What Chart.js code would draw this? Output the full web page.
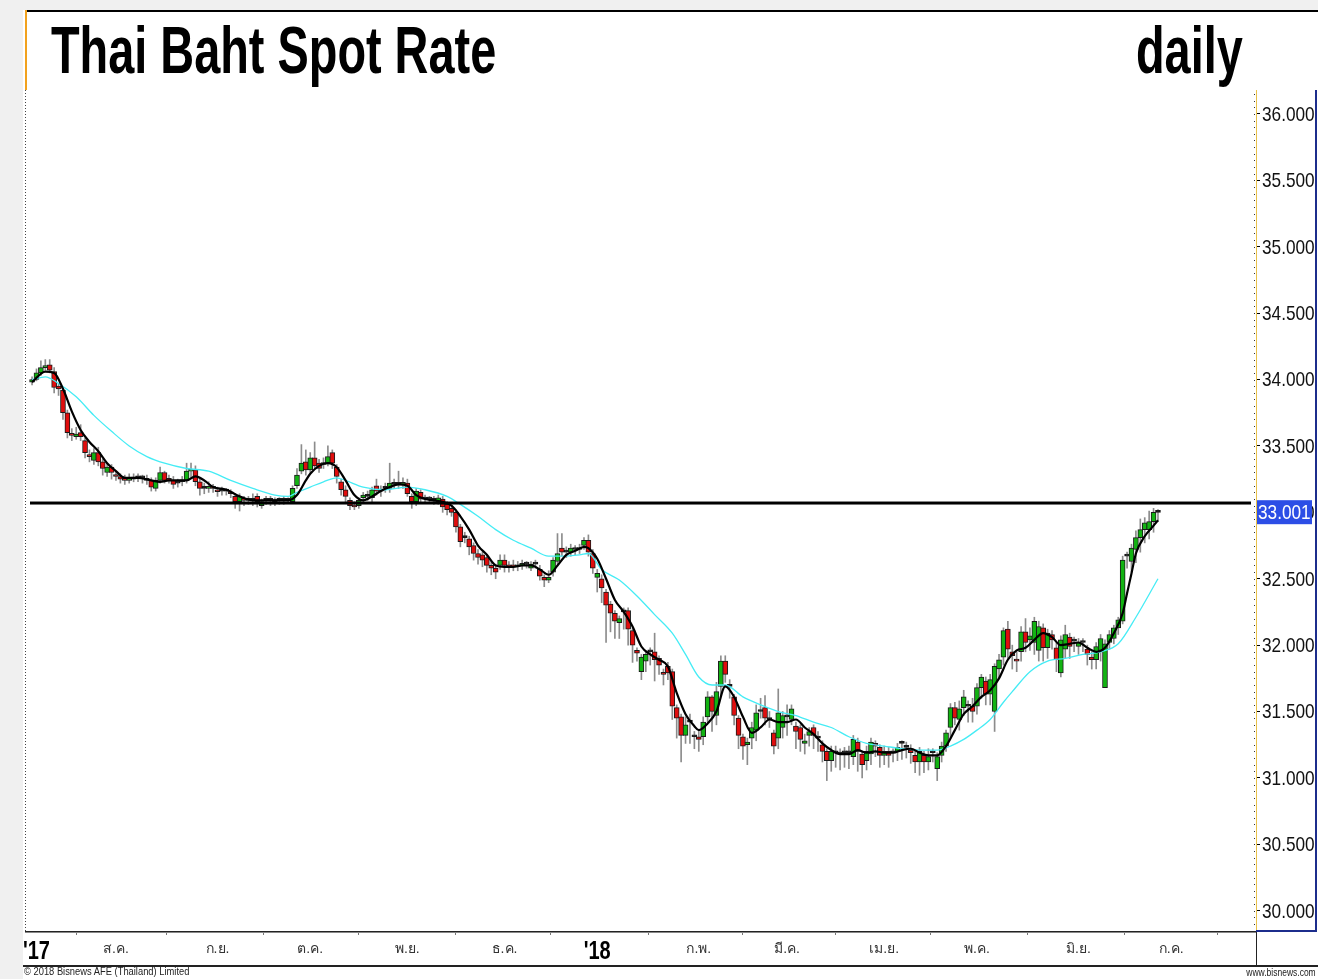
<!DOCTYPE html>
<html>
<head>
<meta charset="utf-8">
<title>Thai Baht Spot Rate</title>
<script src="https://cdn.jsdelivr.net/npm/chart.js@4.4.1/dist/chart.umd.min.js"></script>
<style>
  html, body { margin: 0; padding: 0; background: #f0f0f0; }
  #wrap { position: relative; width: 1318px; height: 979px; overflow: hidden; }
  #panel { position: absolute; left: 23px; top: 10px; width: 1295px; height: 969px; background: #fff; }
  #chart { position: absolute; left: 0; top: 0; }
  .big { position: absolute; top: 17px; font: bold 66px/66px "Liberation Sans", Arial, sans-serif; color: #000; white-space: nowrap; transform-origin: left top; transform: scaleX(0.71); }
  .foot { position: absolute; font: 11px "Liberation Sans", Arial, sans-serif; color: #222; white-space: nowrap; transform-origin: left top; }
</style>
</head>
<body>
<div id="wrap">
  <div id="panel"></div>
  <canvas id="chart" width="1318" height="979"></canvas>
  <div class="big" style="left:51px">Thai Baht Spot Rate</div>
  <div class="big" style="left:1136px">daily</div>
  <div class="foot" style="left:24px; top:965px; transform:scaleX(0.85)">© 2018 Bisnews AFE (Thailand) Limited</div>
  <div class="foot" style="right:2px; top:967px; font-size:10px; transform-origin:right top; transform:scaleX(0.85)">www.bisnews.com</div>
</div>
<script>
// daily candles, Jul 2017 - Jun 2018 (x = trading day number)
const opens = [
  33.98,34.00,34.05,34.09,34.11,34.06,33.95,33.92,33.75,33.59,
  33.57,33.60,33.54,33.43,33.39,33.45,33.38,33.30,33.34,33.28,
  33.27,33.25,33.24,33.25,33.26,33.26,33.25,33.24,33.18,33.24,
  33.30,33.25,33.24,33.22,33.23,33.24,33.31,33.32,33.23,33.18,
  33.18,33.19,33.17,33.16,33.16,33.15,33.12,33.08,33.10,33.09,
  33.09,33.12,33.05,33.09,33.09,33.08,33.09,33.09,33.09,33.08,
  33.20,33.31,33.38,33.32,33.41,33.37,33.36,33.37,33.45,33.34,
  33.23,33.17,33.09,33.05,33.05,33.11,33.12,33.11,33.20,33.16,
  33.18,33.18,33.21,33.21,33.21,33.22,33.12,33.08,33.15,33.10,
  33.10,33.09,33.08,33.10,33.06,33.03,33.00,32.89,32.81,32.80,
  32.75,32.69,32.68,32.66,32.60,32.58,32.60,32.64,32.60,32.60,
  32.59,32.60,32.61,32.58,32.61,32.57,32.51,32.49,32.55,32.63,
  32.73,32.70,32.70,32.72,32.72,32.75,32.79,32.69,32.51,32.50,
  32.40,32.31,32.24,32.17,32.25,32.26,32.11,31.96,31.80,31.88,
  31.95,31.95,31.90,31.79,31.84,31.80,31.53,31.46,31.32,31.42,
  31.31,31.31,31.31,31.46,31.61,31.47,31.69,31.88,31.69,31.61,
  31.45,31.31,31.25,31.30,31.36,31.50,31.53,31.44,31.34,31.30,
  31.38,31.46,31.44,31.39,31.38,31.26,31.32,31.38,31.30,31.25,
  31.20,31.13,31.19,31.18,31.19,31.19,31.16,31.27,31.18,31.13,
  31.18,31.26,31.23,31.17,31.20,31.19,31.20,31.26,31.23,31.21,
  31.17,31.12,31.17,31.12,31.19,31.07,31.17,31.24,31.38,31.53,
  31.44,31.53,31.54,31.54,31.54,31.68,31.73,31.63,31.50,31.82,
  31.91,32.12,31.95,31.89,31.95,32.10,32.04,32.02,31.96,32.13,
  31.98,32.08,31.98,31.79,31.97,32.06,32.03,31.99,32.02,31.97,
  31.91,31.89,31.96,31.68,32.02,32.05,32.13,32.18,32.67,32.63,
  32.72,32.81,32.87,32.87,32.93,33.00
];
const highs = [
  34.02,34.08,34.14,34.15,34.15,34.09,33.97,33.93,33.77,33.63,
  33.64,33.66,33.56,33.47,33.48,33.49,33.40,33.37,33.36,33.31,
  33.29,33.28,33.29,33.29,33.29,33.28,33.28,33.26,33.26,33.34,
  33.31,33.28,33.27,33.25,33.27,33.37,33.37,33.35,33.25,33.22,
  33.23,33.21,33.19,33.19,33.18,33.17,33.14,33.14,33.12,33.12,
  33.14,33.14,33.10,33.12,33.12,33.11,33.11,33.12,33.11,33.20,
  33.33,33.51,33.47,33.45,33.53,33.40,33.41,33.50,33.47,33.36,
  33.25,33.20,33.11,33.08,33.11,33.15,33.16,33.19,33.25,33.20,
  33.22,33.37,33.25,33.31,33.26,33.25,33.14,33.18,33.17,33.13,
  33.12,33.12,33.13,33.12,33.08,33.05,33.02,32.91,32.85,32.82,
  32.77,32.72,32.70,32.68,32.63,32.61,32.68,32.68,32.63,32.64,
  32.63,32.64,32.63,32.63,32.64,32.60,32.53,32.56,32.66,32.84,
  32.84,32.74,32.76,32.75,32.76,32.81,32.83,32.72,32.57,32.53,
  32.42,32.33,32.26,32.22,32.28,32.28,32.13,31.98,31.93,31.95,
  31.98,32.09,31.92,31.82,31.87,31.82,31.55,31.48,31.46,31.48,
  31.35,31.35,31.46,31.65,31.62,31.72,31.92,31.92,31.74,31.63,
  31.47,31.33,31.30,31.42,31.55,31.60,31.62,31.50,31.36,31.67,
  31.50,31.55,31.55,31.42,31.40,31.33,31.38,31.40,31.35,31.28,
  31.22,31.24,31.24,31.22,31.23,31.24,31.32,31.30,31.20,31.24,
  31.30,31.28,31.25,31.24,31.23,31.22,31.26,31.28,31.27,31.25,
  31.20,31.23,31.20,31.22,31.22,31.19,31.27,31.36,31.56,31.57,
  31.58,31.66,31.58,31.60,31.71,31.78,31.76,31.78,31.86,31.93,
  32.13,32.18,32.00,31.95,32.14,32.20,32.13,32.21,32.18,32.16,
  32.12,32.11,32.02,32.07,32.15,32.09,32.06,32.05,32.05,32.00,
  31.95,32.02,32.08,32.04,32.11,32.15,32.21,32.67,32.70,32.76,
  32.86,32.95,32.96,33.01,33.03,33.02
];
const lows = [
  33.96,33.99,34.03,34.07,34.05,33.90,33.88,33.70,33.56,33.54,
  33.55,33.54,33.41,33.38,33.36,33.35,33.28,33.27,33.25,33.24,
  33.22,33.21,33.22,33.23,33.23,33.22,33.21,33.16,33.16,33.22,
  33.22,33.22,33.18,33.19,33.20,33.22,33.26,33.20,33.13,33.14,
  33.15,33.15,33.12,33.13,33.13,33.11,33.03,33.01,33.05,33.06,
  33.05,33.04,33.03,33.06,33.05,33.05,33.06,33.06,33.07,33.07,
  33.18,33.29,33.28,33.30,33.33,33.30,33.33,33.35,33.33,33.22,
  33.13,33.08,33.02,33.02,33.03,33.08,33.09,33.08,33.13,33.12,
  33.15,33.15,33.18,33.18,33.18,33.12,33.03,33.05,33.07,33.07,
  33.08,33.06,33.06,33.00,32.98,32.97,32.85,32.74,32.77,32.68,
  32.64,32.61,32.59,32.55,32.53,32.50,32.57,32.55,32.55,32.56,
  32.56,32.57,32.58,32.56,32.58,32.49,32.44,32.47,32.52,32.61,
  32.67,32.66,32.67,32.68,32.69,32.72,32.67,32.54,32.40,32.32,
  32.02,32.10,32.05,32.05,32.12,32.00,31.87,31.88,31.74,31.80,
  31.85,31.73,31.78,31.70,31.74,31.44,31.30,31.12,31.26,31.26,
  31.22,31.20,31.25,31.42,31.35,31.40,31.62,31.72,31.60,31.40,
  31.22,31.14,31.10,31.22,31.28,31.45,31.40,31.38,31.18,31.22,
  31.30,31.32,31.40,31.22,31.20,31.18,31.24,31.22,31.20,31.12,
  30.98,31.05,31.08,31.06,31.08,31.07,31.10,31.05,31.00,31.06,
  31.10,31.16,31.08,31.10,31.08,31.12,31.13,31.14,31.15,31.11,
  31.04,31.02,31.04,31.06,31.12,30.98,31.12,31.20,31.30,31.40,
  31.36,31.47,31.42,31.42,31.48,31.60,31.55,31.55,31.35,31.75,
  31.85,31.90,31.82,31.80,31.88,31.95,31.96,31.93,31.88,31.88,
  31.90,31.97,31.80,31.76,31.90,31.90,31.95,31.93,31.95,31.85,
  31.82,31.82,31.88,31.68,31.97,32.01,32.08,32.16,32.58,32.55,
  32.62,32.70,32.77,32.80,32.85,32.93
];
const closes = [
  34.00,34.05,34.09,34.10,34.07,33.94,33.93,33.75,33.60,33.58,
  33.59,33.57,33.45,33.42,33.45,33.38,33.33,33.34,33.30,33.27,
  33.25,33.24,33.25,33.26,33.26,33.26,33.24,33.19,33.24,33.30,
  33.24,33.24,33.21,33.22,33.24,33.31,33.32,33.23,33.18,33.18,
  33.19,33.18,33.155,33.16,33.16,33.14,33.08,33.12,33.09,33.09,
  33.09,33.08,33.08,33.09,33.09,33.08,33.09,33.09,33.09,33.18,
  33.28,33.37,33.32,33.41,33.35,33.33,33.37,33.42,33.37,33.27,
  33.17,33.12,33.05,33.04,33.09,33.13,33.12,33.17,33.16,33.16,
  33.18,33.22,33.21,33.21,33.22,33.14,33.08,33.16,33.10,33.10,
  33.10,33.09,33.11,33.04,33.02,33.00,32.89,32.78,32.81,32.74,
  32.69,32.66,32.64,32.60,32.58,32.55,32.64,32.60,32.59,32.59,
  32.60,32.61,32.61,32.61,32.61,32.52,32.49,32.51,32.64,32.69,
  32.70,32.70,32.73,32.72,32.73,32.79,32.70,32.58,32.54,32.43,
  32.30,32.24,32.18,32.20,32.25,32.12,32.00,31.94,31.91,31.93,
  31.95,31.89,31.85,31.78,31.79,31.54,31.45,31.32,31.40,31.42,
  31.31,31.29,31.42,31.61,31.50,31.65,31.88,31.78,31.69,31.47,
  31.32,31.24,31.27,31.38,31.49,31.50,31.45,31.44,31.24,31.49,
  31.47,31.46,31.52,31.35,31.29,31.28,31.35,31.32,31.30,31.20,
  31.13,31.20,31.19,31.18,31.19,31.19,31.29,31.20,31.10,31.20,
  31.27,31.24,31.17,31.20,31.17,31.19,31.23,31.26,31.23,31.19,
  31.12,31.20,31.12,31.16,31.19,31.16,31.24,31.34,31.53,31.45,
  31.52,31.61,31.54,31.50,31.68,31.76,31.63,31.74,31.84,31.89,
  32.11,31.97,31.92,31.88,32.10,32.02,32.07,32.18,32.14,31.98,
  32.09,32.04,31.89,32.04,32.08,31.99,32.03,32.02,32.02,31.93,
  31.89,31.99,32.05,32.01,32.08,32.13,32.19,32.64,32.67,32.73,
  32.81,32.87,32.92,32.93,33.00,33.00
];

// short moving average (black)
const fastDays = [0,3,5,7,9,11,13,15,17,19,21,24,27,29,31,35,37,39,41,44,47,50,54,58,60,62,63,65,67,69,71,73,75,77,79,81,83,85,87,89,91,93,95,97,99,101,103,105,107,109,111,113,115,117,119,121,123,125,126,128,130,132,134,136,138,140,142,144,146,148,150,151,153,155,157,159,161,163,165,167,169,171,173,175,177,179,181,183,185,187,189,191,193,195,197,199,201,203,205,207,209,211,213,215,217,219,221,223,225,227,229,231,233,235,237,239,241,243,245,247,248,249,250,252,254,255];
const fastMA = [33.98,34.06,34.05,33.93,33.76,33.62,33.53,33.46,33.37,33.31,33.26,33.26,33.24,33.23,33.24,33.24,33.27,33.24,33.19,33.17,33.12,33.09,33.09,33.09,33.13,33.24,33.29,33.35,33.37,33.34,33.24,33.13,33.09,33.12,33.16,33.19,33.21,33.20,33.13,33.10,33.09,33.08,33.05,32.97,32.87,32.75,32.68,32.60,32.59,32.59,32.60,32.60,32.57,32.53,32.60,32.68,32.71,32.74,32.73,32.65,32.50,32.34,32.25,32.14,31.99,31.93,31.89,31.84,31.64,31.48,31.39,31.36,31.41,31.50,31.69,31.61,31.46,31.34,31.38,31.44,31.42,31.42,31.44,31.38,31.33,31.26,31.21,31.18,31.18,31.21,31.19,31.20,31.19,31.19,31.21,31.22,31.19,31.17,31.17,31.24,31.36,31.48,31.54,31.61,31.66,31.75,31.89,31.96,31.98,32.04,32.09,32.06,32.00,32.01,32.02,31.98,31.95,31.98,32.09,32.24,32.39,32.54,32.69,32.82,32.90,32.94];

// long moving average (cyan)
const slowDays = [0,3,6,10,14,18,22,26,30,35,40,45,50,55,58,60,63,66,69,71,75,80,85,89,94,97,101,105,109,113,117,120,124,126,129,133,137,141,145,148,151,154,157,161,165,169,173,177,181,185,189,193,197,201,205,208,211,214,217,220,222,226,230,234,238,242,246,250,255];
const slowMA = [34.00,34.02,33.97,33.87,33.73,33.61,33.50,33.42,33.37,33.33,33.31,33.24,33.18,33.13,33.12,33.15,33.19,33.23,33.26,33.24,33.19,33.17,33.19,33.17,33.12,33.06,32.97,32.87,32.79,32.73,32.67,32.67,32.68,32.69,32.57,32.49,32.37,32.23,32.09,31.93,31.76,31.70,31.70,31.61,31.55,31.50,31.47,31.42,31.38,31.31,31.26,31.24,31.22,31.21,31.21,31.24,31.29,31.36,31.44,31.57,31.65,31.80,31.88,31.90,31.93,31.95,32.01,32.21,32.50];

// axis ticks
const monthDays = [1,19,42,63,85,107,128,151,171,193,214,237,258];
const monthLabels = ["'17","ส.ค.","ก.ย.","ต.ค.","พ.ย.","ธ.ค.","'18","ก.พ.","มี.ค.","เม.ย.","พ.ค.","มิ.ย.","ก.ค."];
const priceTicks = [30,30.5,31,31.5,32,32.5,33,33.5,34,34.5,35,35.5,36];
const levelLine = [33.07];
const lastPrice = [33.001];

const SANS = '"Liberation Sans", Arial, sans-serif';

const candleBodies = opens.map((o, i) => ({ x: i, y: [o, closes[i]] }));
const candleWicks = lows.map((l, i) => ({ x: i, y: [l, highs[i]] }));
const bodyColors = opens.map((o, i) => closes[i] > o ? '#12b312' : (closes[i] < o ? '#e00d0d' : '#000'));

// condensed text helper (the original uses a narrow face)
function narrowText(ctx, text, x, y, size, squeeze, weight) {
  ctx.save();
  ctx.translate(x, y);
  ctx.scale(squeeze, 1);
  ctx.font = (weight || '') + ' ' + size + 'px ' + SANS;
  ctx.fillText(text, 0, 0);
  ctx.restore();
}

const framePlugin = {
  id: 'frame',
  beforeDatasetsDraw(chart) {
    const { ctx, chartArea: a } = chart;
    ctx.save();
    ctx.strokeStyle = '#444';
    ctx.lineWidth = 1;
    ctx.setLineDash([1, 2]);
    ctx.beginPath(); ctx.moveTo(a.left + 0.5, a.top); ctx.lineTo(a.left + 0.5, a.bottom); ctx.stroke();
    ctx.restore();
  },
  afterDraw(chart) {
    const { ctx, chartArea: a, scales: { x, y } } = chart;
    const W = chart.width;
    ctx.save();
    // top border and orange marker in the title strip
    ctx.fillStyle = '#000';
    ctx.fillRect(a.left, 10, W - a.left, 2);
    ctx.fillStyle = '#f2a21e';
    ctx.fillRect(a.left, 10, 2, a.top - 10);
    // right price-axis box
    ctx.fillStyle = '#e8c14a';
    ctx.fillRect(a.right, a.top, 1, a.bottom - a.top);
    ctx.fillStyle = '#1c2d8c';
    ctx.fillRect(W - 3, a.top, 2, a.bottom - a.top);
    ctx.fillRect(a.right, a.bottom - 2, W - 3 - a.right, 2);
    // minor ticks on the price axis
    ctx.fillStyle = '#333';
    for (let v = 29.85; v <= 36.18; v += 0.05) {
      ctx.fillRect(a.right - 2, Math.round(y.getPixelForValue(v)), 1, 1);
    }
    // price labels
    ctx.fillStyle = '#111';
    ctx.textBaseline = 'middle';
    priceTicks.forEach(v => narrowText(ctx, v.toFixed(3), a.right + 6, y.getPixelForValue(v) + 1, 21, 0.82));
    // x strip lines
    ctx.fillStyle = '#222';
    ctx.fillRect(a.left, a.bottom - 1, a.right - a.left, 1);
    ctx.fillRect(a.right, a.bottom, 1, 34);
    ctx.fillRect(a.left - 2, a.bottom + 33, W - a.left + 2, 2);
    // year labels, bold and narrow
    ctx.fillStyle = '#000';
    ctx.textBaseline = 'alphabetic';
    monthLabels.forEach((lab, i) => {
      if (lab[0] !== "'") return;
      const px = x.getPixelForValue(monthDays[i]);
      ctx.textAlign = 'center';
      narrowText(ctx, lab, px, a.bottom + 27, 25, 0.8, 'bold');
    });
    ctx.textAlign = 'left';
    // horizontal level line
    levelLine.forEach(v => {
      const py = y.getPixelForValue(v);
      ctx.fillStyle = '#000';
      ctx.fillRect(a.left + 5, py - 1.5, a.right - a.left - 10, 3);
    });
    // last price box
    const ly = y.getPixelForValue(lastPrice[0]);
    ctx.fillStyle = '#2c4ee6';
    ctx.fillRect(a.right + 1, ly - 12, 55, 24);
    ctx.fillStyle = '#fff';
    ctx.textBaseline = 'middle';
    narrowText(ctx, lastPrice[0].toFixed(3), a.right + 2, ly + 1, 21, 0.82);
    ctx.restore();
  }
};

new Chart(document.getElementById('chart'), {
  type: 'bar',
  data: {
    datasets: [
      {
        type: 'line', data: fastDays.map((d, k) => ({ x: d, y: fastMA[k] })),
        borderColor: '#000', borderWidth: 2.2, pointRadius: 0,
        cubicInterpolationMode: 'monotone', order: 0
      },
      {
        type: 'line', data: slowDays.map((d, k) => ({ x: d, y: slowMA[k] })),
        borderColor: '#45ecf5', borderWidth: 1.3, pointRadius: 0,
        cubicInterpolationMode: 'monotone', order: 1
      },
      {
        data: candleBodies, backgroundColor: bodyColors, borderColor: '#1a1a1a',
        borderWidth: 1, borderSkipped: false, barThickness: 5, minBarLength: 2,
        grouped: false, order: 2
      },
      {
        data: candleWicks, backgroundColor: '#8c8c8c', barThickness: 1,
        grouped: false, order: 3
      }
    ]
  },
  options: {
    responsive: false,
    animation: false,
    layout: { padding: { left: 25, top: 90, right: 2, bottom: 14 } },
    plugins: { legend: { display: false }, tooltip: { enabled: false } },
    scales: {
      x: {
        type: 'linear', min: -1.6, max: 277.2, offset: false,
        afterBuildTicks: s => { s.ticks = monthDays.map(v => ({ value: v })); },
        afterFit: s => { s.height = 33; },
        grid: { drawOnChartArea: false, tickLength: 3, color: '#777' },
        border: { color: '#888' },
        ticks: {
          autoSkip: false, maxRotation: 0, padding: 6, color: '#333',
          // year marks are drawn bold by the frame plugin
          callback: (v, i) => monthLabels[i][0] === "'" ? '' : monthLabels[i],
          font: { family: 'sans-serif', size: 14 }
        }
      },
      y: {
        position: 'right', min: 29.84, max: 36.18,
        afterBuildTicks: s => { s.ticks = priceTicks.map(v => ({ value: v })); },
        afterFit: s => { s.width = 60; },
        grid: { drawOnChartArea: false, tickLength: 4, color: '#000' },
        border: { display: false },
        ticks: { display: false }
      }
    }
  },
  plugins: [framePlugin]
});
</script>
</body>
</html>
